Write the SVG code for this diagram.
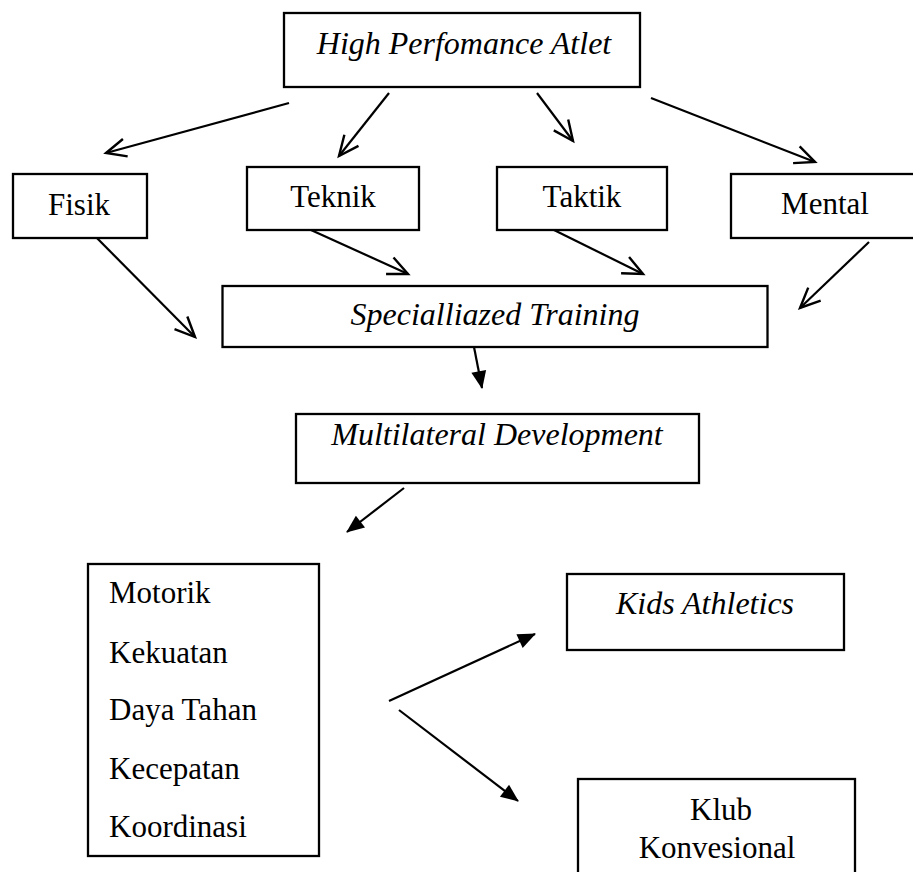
<svg xmlns="http://www.w3.org/2000/svg" width="913" height="872" viewBox="0 0 913 872">
  <style>
    .box { fill: #ffffff; stroke: #000000; stroke-width: 2.3; }
    .t { font-family: "Liberation Serif", "Times New Roman", serif; font-size: 31px; fill: #000000; }
    .ti { font-family: "Liberation Serif", "Times New Roman", serif; font-size: 32px; font-style: italic; fill: #000000; }
    .c { text-anchor: middle; }
    .ln { stroke: #000000; stroke-width: 2.2; fill: none; }
    .open { marker-end: url(#openHead); }
    .filled { marker-end: url(#fillHead); }
  </style>
  <defs>
    <marker id="openHead" markerUnits="userSpaceOnUse" markerWidth="30" markerHeight="30" viewBox="-25 -15 30 30" refX="0" refY="0" orient="auto" overflow="visible">
      <path d="M-20,-9 L0,0 L-20,9" fill="none" stroke="#000000" stroke-width="2.4" stroke-linejoin="miter"/>
    </marker>
    <marker id="fillHead" markerUnits="userSpaceOnUse" markerWidth="30" markerHeight="30" viewBox="-25 -15 30 30" refX="0" refY="0" orient="auto" overflow="visible">
      <path d="M1,0 L-17,-7.5 L-17,7.5 Z" fill="#000000" stroke="none"/>
    </marker>
  </defs>
  <rect width="913" height="872" fill="#ffffff"/>

  <g id="connectors">
    <line class="ln open" x1="289" y1="103" x2="106" y2="153"/>
    <line class="ln open" x1="389" y1="93" x2="339" y2="156"/>
    <line class="ln open" x1="537" y1="93" x2="573" y2="141"/>
    <line class="ln open" x1="651" y1="98" x2="815" y2="162"/>
    <line class="ln open" x1="89" y1="230" x2="195" y2="337"/>
    <line class="ln open" x1="311" y1="230" x2="408" y2="274"/>
    <line class="ln open" x1="554" y1="230" x2="643" y2="274"/>
    <line class="ln open" x1="869" y1="242" x2="800" y2="308"/>
    <line class="ln filled" x1="474" y1="347" x2="482" y2="388"/>
    <line class="ln filled" x1="404" y1="488" x2="347" y2="532"/>
    <line class="ln filled" x1="389" y1="701" x2="535" y2="634"/>
    <line class="ln filled" x1="399" y1="710" x2="518" y2="801"/>
  </g>

  <g id="high-performance">
    <rect class="box" x="284" y="13" width="356" height="74"/>
    <text class="ti c" x="464" y="54">High Perfomance Atlet</text>
  </g>
  <g id="fisik">
    <rect class="box" x="13" y="174" width="134" height="64"/>
    <text class="t c" x="79" y="215">Fisik</text>
  </g>
  <g id="teknik">
    <rect class="box" x="247" y="167" width="172" height="63"/>
    <text class="t c" x="333" y="207">Teknik</text>
  </g>
  <g id="taktik">
    <rect class="box" x="497" y="167" width="170" height="63"/>
    <text class="t c" x="582" y="207">Taktik</text>
  </g>
  <g id="mental">
    <rect class="box" x="731" y="174" width="200" height="64"/>
    <text class="t c" x="825" y="214">Mental</text>
  </g>
  <g id="specialized-training">
    <rect class="box" x="222.5" y="286" width="545" height="61"/>
    <text class="ti c" x="495" y="325">Specialliazed Training</text>
  </g>
  <g id="multilateral-development">
    <rect class="box" x="296" y="414" width="403" height="69"/>
    <text class="ti c" x="497" y="445">Multilateral Development</text>
  </g>
  <g id="components">
    <rect class="box" x="88" y="564" width="231" height="292"/>
    <text class="t" x="109" y="603">Motorik</text>
    <text class="t" x="109" y="663">Kekuatan</text>
    <text class="t" x="109" y="720">Daya Tahan</text>
    <text class="t" x="109" y="779">Kecepatan</text>
    <text class="t" x="109" y="837">Koordinasi</text>
  </g>
  <g id="kids-athletics">
    <rect class="box" x="567" y="574" width="277" height="76"/>
    <text class="ti c" x="705" y="614">Kids Athletics</text>
  </g>
  <g id="klub-konvesional">
    <rect class="box" x="578" y="779" width="277" height="110"/>
    <text class="t c" x="721" y="820">Klub</text>
    <text class="t c" x="717" y="858">Konvesional</text>
  </g>
</svg>
